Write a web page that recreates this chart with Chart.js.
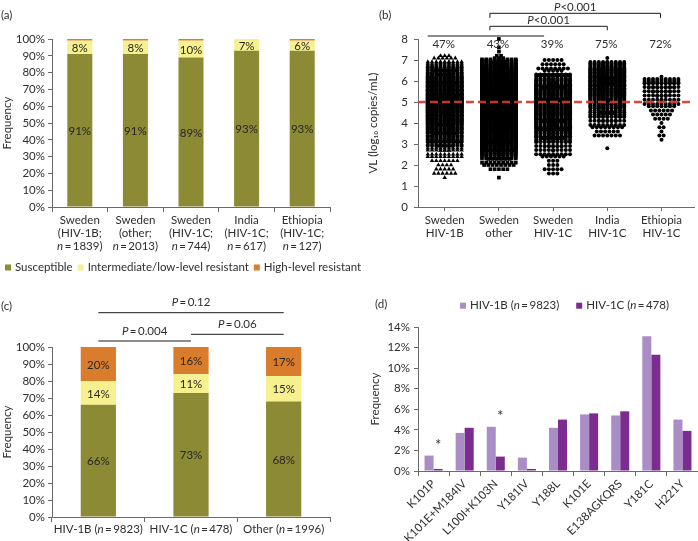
<!DOCTYPE html>
<html><head><meta charset="utf-8">
<script src="https://cdn.jsdelivr.net/npm/chart.js@4.4.1/dist/chart.umd.min.js"></script>
<style>
html,body{margin:0;padding:0;background:#fff;}
#wrap{position:relative;width:698px;height:541px;overflow:hidden;background:#fff;}
canvas{position:absolute;display:block;}
</style></head><body>
<div id="wrap">
<canvas id="ca" width="370" height="290" style="left:0;top:0"></canvas>
<canvas id="cb" width="348" height="260" style="left:350px;top:0"></canvas>
<canvas id="cc" width="350" height="251" style="left:0;top:290px"></canvas>
<canvas id="cd" width="348" height="251" style="left:350px;top:290px"></canvas>
</div>
<script>
// ---------- Panel (a): drug resistance by group ----------
const resGroupsA = [
  ['Sweden', '(HIV-1B;', 'n\u2009=\u20091839)'],
  ['Sweden', '(other;', 'n\u2009=\u20092013)'],
  ['Sweden', '(HIV-1C;', 'n\u2009=\u2009744)'],
  ['India', '(HIV-1C;', 'n\u2009=\u2009617)'],
  ['Ethiopia', '(HIV-1C;', 'n\u2009=\u2009127)']
];
const resLevels = ['Susceptible', 'Intermediate/low-level resistant', 'High-level resistant'];
const susceptibleA = [91, 91, 89, 93, 93];
const intermediateA = [8, 8, 10, 7, 6];
const highLevelA = [1, 1, 1, 0.5, 1];

// ---------- Panel (b): viral load ----------
const vlGroups = [['Sweden', 'HIV-1B'], ['Sweden', 'other'], ['Sweden', 'HIV-1C'], ['India', 'HIV-1C'], ['Ethiopia', 'HIV-1C']];
const vlBinCenters = [1.4,1.6,1.8,2.0,2.2,2.4,2.6,2.8,3.0,3.2,3.4,3.6,3.8,4.0,4.2,4.4,4.6,4.8,5.0,5.2,5.4,5.6,5.8,6.0,6.2,6.4,6.6,6.8,7.0,7.2,7.4,7.6,7.8,8.0];
const vlCountsSweden1B    = [1,6,5,4,7,9,12,22,35,50,60,70,85,90,100,110,120,125,130,125,120,115,105,95,85,60,45,30,15,3,0,0,0,0];
const vlCountsSwedenOther = [1,0,5,8,15,25,35,45,60,68,75,85,95,100,105,110,115,118,120,115,110,105,100,100,90,75,58,40,30,2,1,1,0,1];
const vlCountsSweden1C    = [0,3,5,3,3,6,10,14,18,24,30,35,38,42,46,50,52,54,44,48,46,42,38,34,26,14,8,6,5,0,0,0,0,0];
const vlCountsIndia       = [0,0,0,0,0,0,0,1,0,0,7,6,8,14,18,22,25,30,38,45,50,55,58,58,55,50,39,28,10,0,0,0,0,0];
const vlCountsEthiopia    = [0,0,0,0,0,0,0,0,0,1,2,1,2,1,4,5,6,7,10,12,14,16,18,27,1,0,0,0,0,0,0,0,0,0];
const vlAbove5 = ['47%', '43%', '39%', '75%', '72%'];
const vlThreshold = 5;
const vlComparisons = [
  { a: 1, b: 3, label: '' },
  { a: 2, b: 4, label: 'P<0.001' },
  { a: 2, b: 5, label: 'P<0.001' }
];

// ---------- Panel (c): resistance by subtype ----------
const resGroupsC = ['HIV-1B (n\u2009=\u20099823)', 'HIV-1C (n\u2009=\u2009478)', 'Other (n\u2009=\u20091996)'];
const susceptibleC = [66, 73, 68];
const intermediateC = [14, 11, 15];
const highLevelC = [20, 16, 17];
const resComparisons = [
  { a: 0, b: 1, label: 'P\u2009=\u20090.004' },
  { a: 1, b: 2, label: 'P\u2009=\u20090.06' },
  { a: 0, b: 2, label: 'P\u2009=\u20090.12' }
];

// ---------- Panel (d): mutations ----------
const mutations = ['K101P', 'K101E+M184IV', 'L100I+K103N', 'Y181IV', 'Y188L', 'K101E', 'E138AGKQRS', 'Y181C', 'H221Y'];
const subtypeSeries = ['HIV-1B (n\u2009=\u20099823)', 'HIV-1C (n\u2009=\u2009478)'];
const freqHIV1B = [1.5, 3.7, 4.3, 1.3, 4.2, 5.5, 5.4, 13.1, 5.0];
const freqHIV1C = [0.2, 4.2, 1.4, 0.2, 5.0, 5.6, 5.8, 11.3, 3.9];
const sigMarks = ['*', '', '*', '', '', '', '', '', ''];

// ---------- styling ----------
const FAMILY = "Lato, 'Open Sans', 'DejaVu Sans', sans-serif";
const FS = 11.5;
const TXT = '#2e2e2e';
const AXIS = '#6a6a6a';
const OLIVE = '#8c8a35', YELLOW = '#f6f18e', ORANGE = '#d97d2c';
const LILAC = '#aa8cc6', PURPLE = '#7c2b8e';
const RED = 'rgba(212,58,46,0.92)';
Chart.defaults.font.family = FAMILY;
Chart.defaults.font.size = FS;
Chart.defaults.color = TXT;

function drawRich(ctx, text, x, y, align, size, color) {
  const parts = [];
  const re = /\b([nP])(?=[\u2009=<])/g;
  let last = 0, m;
  while ((m = re.exec(text))) {
    if (m.index > last) parts.push({ t: text.slice(last, m.index), i: false });
    parts.push({ t: m[1], i: true });
    last = m.index + 1;
  }
  if (last < text.length) parts.push({ t: text.slice(last), i: false });
  let w = 0;
  parts.forEach(p => { p.f = (p.i ? 'italic ' : '') + size + 'px ' + FAMILY; ctx.font = p.f; p.w = ctx.measureText(p.t).width; w += p.w; });
  let cx = align === 'center' ? x - w / 2 : align === 'right' ? x - w : x;
  ctx.save();
  ctx.textAlign = 'left'; ctx.textBaseline = 'middle'; ctx.fillStyle = color;
  parts.forEach(p => { ctx.font = p.f; ctx.fillText(p.t, cx, y); cx += p.w; });
  ctx.restore();
  return w;
}
function drawLegend(ctx, items, x, y, gapAfter) {
  items.forEach(it => {
    ctx.fillStyle = it.color;
    ctx.fillRect(x, y - 3, 6, 6);
    x += 10;
    x += drawRich(ctx, it.text, x, y, 'left', FS, TXT) + gapAfter;
  });
}
function panelLabel(ctx, t, x, y) {
  ctx.save(); ctx.font = FS + 'px ' + FAMILY; ctx.fillStyle = TXT; ctx.textBaseline = 'middle'; ctx.textAlign = 'left';
  ctx.fillText(t, x, y); ctx.restore();
}
function segmentLabels(chart, showSets) {
  const ctx = chart.ctx;
  showSets.forEach(di => {
    const meta = chart.getDatasetMeta(di);
    meta.data.forEach((el, i) => {
      const v = chart.data.datasets[di].data[i];
      ctx.save(); ctx.font = FS + 'px ' + FAMILY; ctx.fillStyle = '#262626';
      ctx.textAlign = 'center'; ctx.textBaseline = 'middle';
      ctx.fillText(v + '%', el.x, (el.y + el.base) / 2 + 1);
      ctx.restore();
    });
  });
}
function yAxis(extra) {
  return Object.assign({
    grid: { drawOnChartArea: false, tickLength: 4, color: AXIS },
    border: { color: AXIS },
  }, extra);
}

// ---------- Chart (a) ----------
new Chart(document.getElementById('ca'), {
  type: 'bar',
  data: {
    labels: resGroupsA.map(l => l.join(' ')),
    datasets: [
      { label: resLevels[0], data: susceptibleA, backgroundColor: OLIVE },
      { label: resLevels[1], data: intermediateA, backgroundColor: YELLOW },
      { label: resLevels[2], data: highLevelA, backgroundColor: ORANGE }
    ]
  },
  options: {
    responsive: false, animation: false,
    layout: { padding: { left: 0, right: 40, top: 39, bottom: 0 } },
    datasets: { bar: { barPercentage: 0.45, categoryPercentage: 1 } },
    plugins: { legend: { display: false }, tooltip: { enabled: false } },
    scales: {
      x: { stacked: true, ticks: { display: false }, grid: { drawOnChartArea: false, tickLength: 5, color: AXIS }, border: { color: AXIS },
           afterFit(s) { s.height = 83; } },
      y: yAxis({ stacked: true, min: 0, max: 100, ticks: { stepSize: 10, padding: 3, callback: v => v + '%' },
           title: { display: true, text: 'Frequency', padding: 0 }, afterFit(s) { s.width = 52; } })
    }
  },
  plugins: [{
    id: 'decorA',
    afterDraw(chart) {
      const ctx = chart.ctx, xs = chart.scales.x, b = chart.chartArea.bottom;
      panelLabel(ctx, '(a)', 1, 15);
      segmentLabels(chart, [0, 1]);
      resGroupsA.forEach((lines, i) => {
        const x = xs.getPixelForValue(i);
        lines.forEach((ln, k) => drawRich(ctx, ln, x, b + 13.5 + k * 13, 'center', FS, TXT));
      });
      drawLegend(ctx, resLevels.map((t, i) => ({ text: t, color: [OLIVE, YELLOW, ORANGE][i] })), 5, 267.5, 5);
    }
  }]
});

// ---------- Chart (b) ----------
const SWARM_COLS = 9, SWARM_DX = 0.078;
function swarmPoints(g, counts) {
  const pts = [];
  const step = vlBinCenters[1] - vlBinCenters[0];
  counts.forEach((c, bi) => {
    if (!c) return;
    const rows = Math.ceil(c / SWARM_COLS);
    for (let r = 0; r < rows; r++) {
      const k = Math.min(SWARM_COLS, c - r * SWARM_COLS);
      const y = vlBinCenters[bi] + (rows > 1 ? (r / (rows - 1) - 0.5) * step * 0.9 : 0);
      for (let j = 0; j < k; j++) pts.push({ x: g + 1 + (j - (k - 1) / 2) * SWARM_DX, y });
    }
  });
  return pts;
}
const vlSeries = [vlCountsSweden1B, vlCountsSwedenOther, vlCountsSweden1C, vlCountsIndia, vlCountsEthiopia];
const vlStyles = [['triangle', 2.6], ['rect', 2.6], ['circle', 2.0], ['circle', 2.0], ['circle', 2.0]];
new Chart(document.getElementById('cb'), {
  type: 'scatter',
  data: {
    datasets: [
      { type: 'line', label: 'threshold', data: [{ x: 0.507, y: vlThreshold }, { x: 5.6, y: vlThreshold }],
        borderColor: RED, borderWidth: 2.6, borderDash: [8, 4], pointRadius: 0, order: 0 },
      ...vlSeries.map((c, g) => ({
        label: vlGroups[g].join(' '), data: swarmPoints(g, c), order: 1, clip: false,
        pointStyle: vlStyles[g][0], pointRadius: vlStyles[g][1], backgroundColor: '#000', borderWidth: 0
      }))
    ]
  },
  options: {
    responsive: false, animation: false,
    layout: { padding: { left: 14, right: 1, top: 39, bottom: 0 } },
    plugins: { legend: { display: false }, tooltip: { enabled: false } },
    scales: {
      x: { type: 'linear', min: 0.507, max: 5.6,
           afterBuildTicks(s) { s.ticks = vlGroups.map((_, i) => ({ value: i + 1 })); },
           ticks: { padding: 3, font: { lineHeight: 1.12 }, callback: v => vlGroups[Math.round(v) - 1] },
           grid: { drawOnChartArea: false, tickLength: 4, color: AXIS }, border: { color: AXIS },
           afterFit(s) { s.height = 53; } },
      y: yAxis({ min: 0, max: 8, ticks: { stepSize: 1, padding: 6 },
           title: { display: true, text: 'VL (log\u2081\u2080 copies/mL)', padding: 2 }, afterFit(s) { s.width = 54; } })
    }
  },
  plugins: [{
    id: 'decorB',
    afterDraw(chart) {
      const ctx = chart.ctx, xs = chart.scales.x, top = chart.chartArea.top;
      panelLabel(ctx, '(b)', 29, 15);
      ctx.save(); ctx.font = FS + 'px ' + FAMILY; ctx.fillStyle = TXT; ctx.textAlign = 'center'; ctx.textBaseline = 'middle';
      vlAbove5.forEach((t, i) => ctx.fillText(t, xs.getPixelForValue(i + 1) - 1, top + 5.5));
      ctx.restore();
      const lv = [{ y: top - 3, drop: 0, da: -17, db: -9 }, { y: top - 12.7, drop: 4, da: -9, db: 0 }, { y: top - 25.7, drop: 4.5, da: -9, db: -1 }];
      ctx.save(); ctx.strokeStyle = '#1a1a1a'; ctx.lineWidth = 1;
      vlComparisons.forEach((c, i) => {
        const L = lv[i];
        const x1 = xs.getPixelForValue(c.a) + L.da, x2 = xs.getPixelForValue(c.b) + L.db;
        ctx.beginPath();
        ctx.moveTo(x1, L.y + L.drop); ctx.lineTo(x1, L.y); ctx.lineTo(x2, L.y); ctx.lineTo(x2, L.y + L.drop);
        ctx.stroke();
        if (c.label) drawRich(ctx, c.label, (x1 + x2) / 2, L.y - 6.5, 'center', FS, TXT);
      });
      ctx.restore();
    }
  }]
});

// ---------- Chart (c) ----------
new Chart(document.getElementById('cc'), {
  type: 'bar',
  data: {
    labels: resGroupsC,
    datasets: [
      { label: resLevels[0], data: susceptibleC, backgroundColor: OLIVE },
      { label: resLevels[1], data: intermediateC, backgroundColor: YELLOW },
      { label: resLevels[2], data: highLevelC, backgroundColor: ORANGE }
    ]
  },
  options: {
    responsive: false, animation: false,
    layout: { padding: { left: 0, right: 20, top: 57, bottom: 0 } },
    datasets: { bar: { barPercentage: 0.38, categoryPercentage: 1 } },
    plugins: { legend: { display: false }, tooltip: { enabled: false } },
    scales: {
      x: { stacked: true, ticks: { display: false }, grid: { drawOnChartArea: false, tickLength: 5, color: AXIS }, border: { color: AXIS },
           afterFit(s) { s.height = 24; } },
      y: yAxis({ stacked: true, min: 0, max: 100, ticks: { stepSize: 10, padding: 3, callback: v => v + '%' },
           title: { display: true, text: 'Frequency', padding: 0 }, afterFit(s) { s.width = 52; } })
    }
  },
  plugins: [{
    id: 'decorC',
    afterDraw(chart) {
      const ctx = chart.ctx, xs = chart.scales.x, top = chart.chartArea.top, b = chart.chartArea.bottom;
      panelLabel(ctx, '(c)', 1, 16);
      segmentLabels(chart, [0, 1, 2]);
      resGroupsC.forEach((t, i) => drawRich(ctx, t, xs.getPixelForValue(i), b + 12.5, 'center', FS, TXT));
      const lv = [top - 6, top - 12.7, top - 34.3];
      ctx.save(); ctx.strokeStyle = '#1a1a1a'; ctx.lineWidth = 1;
      resComparisons.forEach((c, i) => {
        const x1 = xs.getPixelForValue(c.a), x2 = xs.getPixelForValue(c.b);
        ctx.beginPath(); ctx.moveTo(x1, lv[i]); ctx.lineTo(x2, lv[i]); ctx.stroke();
        drawRich(ctx, c.label, (x1 + x2) / 2, lv[i] - 10, 'center', FS, TXT);
      });
      ctx.restore();
    }
  }]
});

// ---------- Chart (d) ----------
new Chart(document.getElementById('cd'), {
  type: 'bar',
  data: {
    labels: mutations,
    datasets: [
      { label: subtypeSeries[0], data: freqHIV1B, backgroundColor: LILAC },
      { label: subtypeSeries[1], data: freqHIV1C, backgroundColor: PURPLE }
    ]
  },
  options: {
    responsive: false, animation: false,
    layout: { padding: { left: 16, right: 0, top: 37, bottom: 0 } },
    datasets: { bar: { barPercentage: 1, categoryPercentage: 0.58 } },
    plugins: { legend: { display: false }, tooltip: { enabled: false } },
    scales: {
      x: { ticks: { minRotation: 45, maxRotation: 45, padding: 1, autoSkip: false },
           grid: { drawOnChartArea: false, tickLength: 5, color: AXIS }, border: { color: AXIS },
           afterFit(s) { s.height = 70; } },
      y: yAxis({ min: 0, max: 14, ticks: { stepSize: 2, padding: 4, callback: v => v + '%' },
           title: { display: true, text: 'Frequency', padding: 2 }, afterFit(s) { s.width = 52; } })
    }
  },
  plugins: [{
    id: 'decorD',
    afterDraw(chart) {
      const ctx = chart.ctx, ys = chart.scales.y;
      panelLabel(ctx, '(d)', 25, 14);
      drawLegend(ctx, subtypeSeries.map((t, i) => ({ text: t, color: [LILAC, PURPLE][i] })), 110, 15.7, 17);
      const meta = chart.getDatasetMeta(1);
      ctx.save(); ctx.font = '15px ' + FAMILY; ctx.fillStyle = TXT; ctx.textAlign = 'center'; ctx.textBaseline = 'middle';
      sigMarks.forEach((s, i) => {
        if (!s) return;
        const v = Math.max(freqHIV1B[i], freqHIV1C[i]) + 1.35;
        ctx.fillText(s, meta.data[i].x, ys.getPixelForValue(v) + 3);
      });
      ctx.restore();
    }
  }]
});
</script>
</body></html>
